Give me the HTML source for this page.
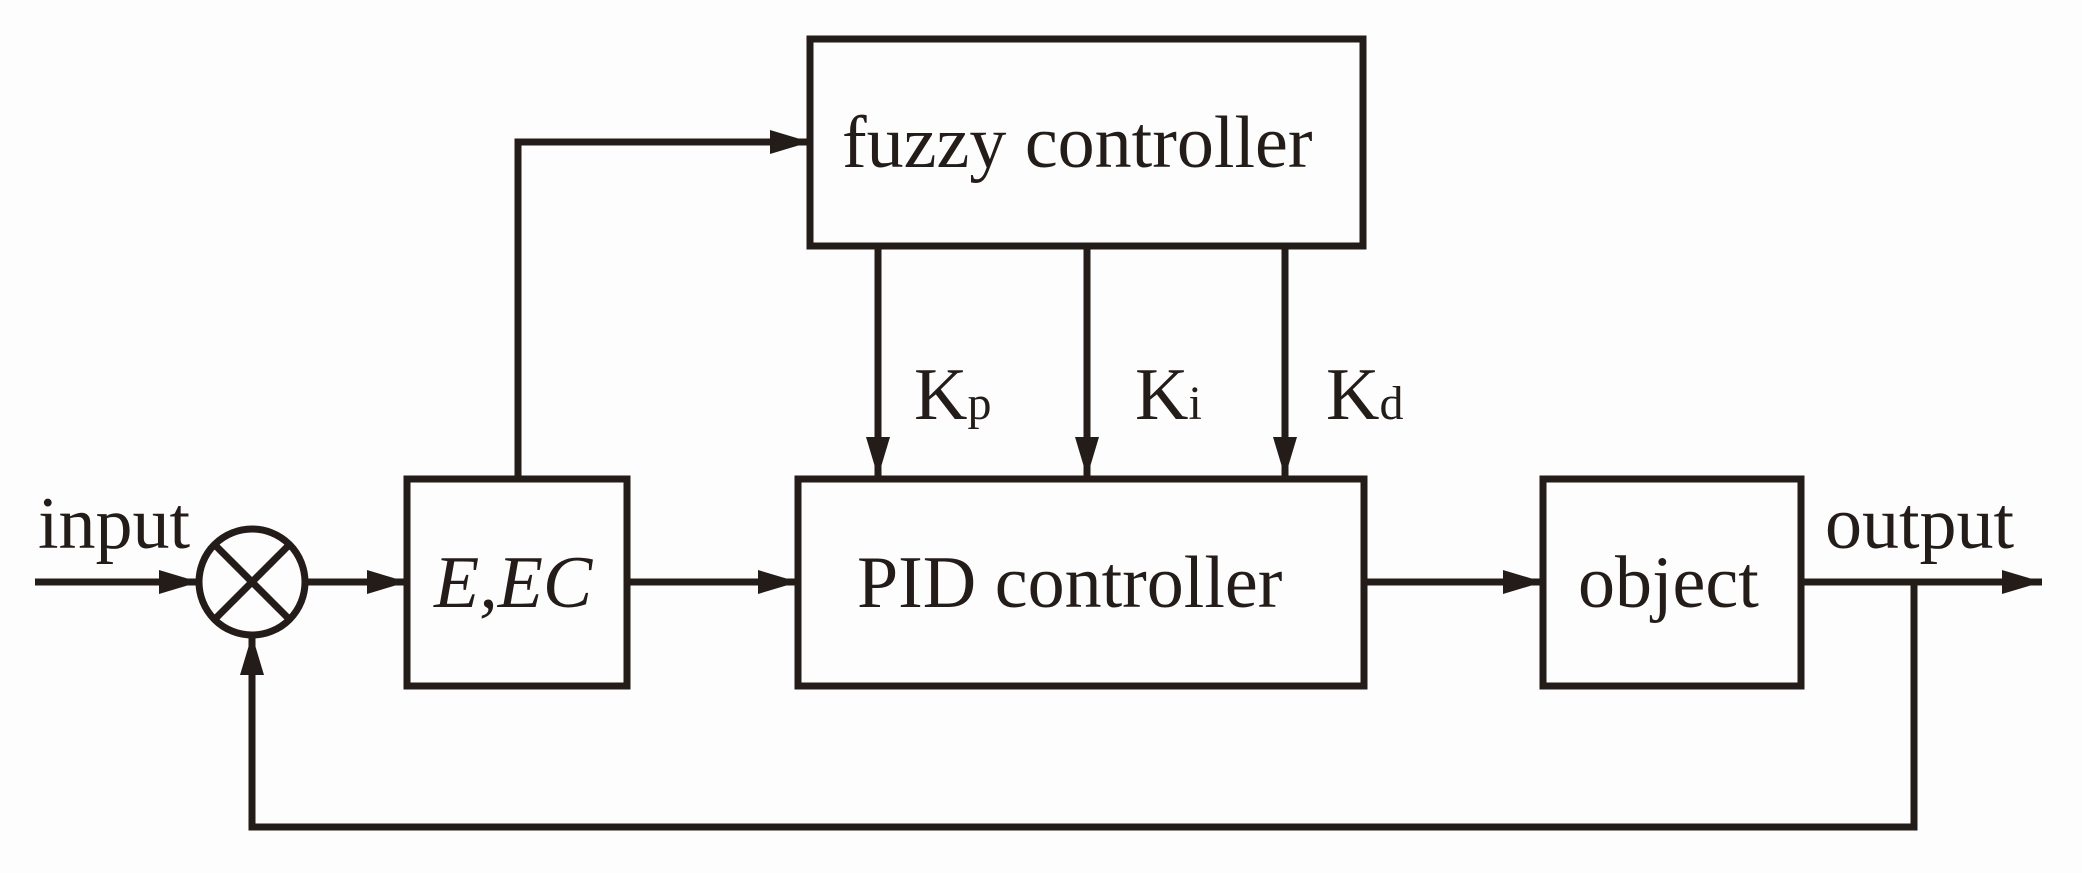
<!DOCTYPE html>
<html><head><meta charset="utf-8"><style>
html,body{margin:0;padding:0;background:#fdfdfd;}
svg{display:block;}
text{font-family:"Liberation Serif",serif;fill:#231c18;}
</style></head><body>
<svg width="2082" height="873" viewBox="0 0 2082 873" xmlns="http://www.w3.org/2000/svg">
<defs>
<marker id="a" markerWidth="40" markerHeight="24" refX="40" refY="12" orient="auto" markerUnits="userSpaceOnUse">
<path d="M0,0 L40,12 L0,24 Z" fill="#231c18"/>
</marker>
</defs>
<g stroke="#231c18" stroke-width="7" fill="none">
<rect x="810" y="39" width="553" height="207"/>
<rect x="407" y="479" width="220" height="207"/>
<rect x="798" y="479" width="566" height="207"/>
<rect x="1543" y="479" width="258" height="207"/>
<circle cx="252" cy="582" r="53"/>
<line x1="215" y1="545" x2="289" y2="619"/>
<line x1="289" y1="545" x2="215" y2="619"/>
<line x1="35" y1="582" x2="199" y2="582" marker-end="url(#a)"/>
<line x1="305" y1="582" x2="407" y2="582" marker-end="url(#a)"/>
<line x1="627" y1="582" x2="798" y2="582" marker-end="url(#a)"/>
<line x1="1364" y1="582" x2="1543" y2="582" marker-end="url(#a)"/>
<line x1="1801" y1="582" x2="2042" y2="582" marker-end="url(#a)"/>
<polyline points="518,479 518,142 810,142" marker-end="url(#a)"/>
<line x1="878" y1="246" x2="878" y2="477" marker-end="url(#a)"/>
<line x1="1087" y1="246" x2="1087" y2="477" marker-end="url(#a)"/>
<line x1="1285" y1="246" x2="1285" y2="477" marker-end="url(#a)"/>
<polyline points="1914,582 1914,827 252,827 252,635" marker-end="url(#a)"/>
</g>
<text x="842" y="167" font-size="74">fuzzy controller</text>
<text x="857" y="607" font-size="74">PID controller</text>
<text x="434" y="607" font-size="74" font-style="italic">E,EC</text>
<text x="1578" y="607" font-size="74">object</text>
<text x="1825" y="548" font-size="74">output</text>
<text x="38" y="548" font-size="74">input</text>
<text x="914" y="419" font-size="74">K<tspan font-size="48">p</tspan></text>
<text x="1135" y="419" font-size="74">K<tspan font-size="48">i</tspan></text>
<text x="1326" y="419" font-size="74">K<tspan font-size="48">d</tspan></text>
</svg>
</body></html>
